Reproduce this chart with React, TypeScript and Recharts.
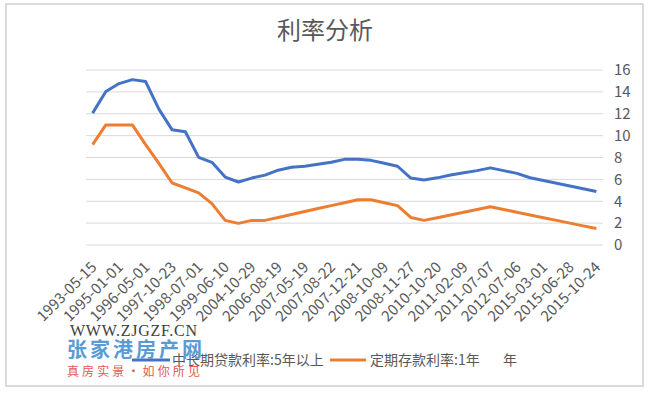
import React from 'react';
import { LineChart, Line, XAxis, YAxis, CartesianGrid } from 'recharts';

// 调整日期
const dates = [
  '1993-05-15', '1993-07-11', '1995-01-01', '1995-07-01', '1996-05-01', '1996-08-23',
  '1997-10-23', '1998-03-25', '1998-07-01', '1998-12-07', '1999-06-10', '2002-02-21',
  '2004-10-29', '2006-04-28', '2006-08-19', '2007-03-18', '2007-05-19', '2007-07-21',
  '2007-08-22', '2007-09-15', '2007-12-21', '2008-09-16', '2008-10-09', '2008-10-30',
  '2008-11-27', '2008-12-23', '2010-10-20', '2010-12-26', '2011-02-09', '2011-04-06',
  '2011-07-07', '2012-06-08', '2012-07-06', '2014-11-22', '2015-03-01', '2015-05-11',
  '2015-06-28', '2015-08-26', '2015-10-24',
];

// 中长期贷款利率:5年以上
const loanRate = [
  12.06, 14.04, 14.76, 15.12, 14.94, 12.42, 10.53, 10.35, 8.01, 7.56, 6.21, 5.76,
  6.12, 6.39, 6.84, 7.11, 7.2, 7.38, 7.56, 7.83, 7.83, 7.74, 7.47, 7.2,
  6.12, 5.94, 6.14, 6.4, 6.6, 6.8, 7.05, 6.8, 6.55, 6.15, 5.9, 5.65,
  5.4, 5.15, 4.9,
];

// 定期存款利率:1年
const depositRate = [
  9.18, 10.98, 10.98, 10.98, 9.18, 7.47, 5.67, 5.22, 4.77, 3.78, 2.25, 1.98,
  2.25, 2.25, 2.52, 2.79, 3.06, 3.33, 3.6, 3.87, 4.14, 4.14, 3.87, 3.6,
  2.52, 2.25, 2.5, 2.75, 3.0, 3.25, 3.5, 3.25, 3.0, 2.75, 2.5, 2.25,
  2.0, 1.75, 1.5,
];

const yTicks = [0, 2, 4, 6, 8, 10, 12, 14, 16];

const data = dates.map((date, i) => ({ date, loan: loanRate[i], deposit: depositRate[i] }));

const FONT = '"Noto Sans CJK SC", "Noto Sans", sans-serif';
const TEXT = '#595959';
const BLUE = '#4472C4';
const ORANGE = '#ED7D31';

const DateTick = ({ x, y, payload }: any) => (
  <g transform={`translate(${x + 5},${y + 23})`}>
    <text textAnchor="end" transform="rotate(-45)" fill={TEXT} fontSize={15} fontFamily={FONT}>
      {payload.value}
    </text>
  </g>
);

export default function App() {
  return (
    <div style={{ position: 'absolute', left: 0, top: 0, width: 649, height: 394, background: '#fff' }}>
      <div
        style={{
          position: 'absolute', left: 5, top: 3, width: 639, height: 384,
          border: '2px solid #dadada', boxSizing: 'border-box',
        }}
      />
      <LineChart width={649} height={394} data={data} margin={{ top: 70, right: 6, bottom: 69, left: 86 }}>
        <CartesianGrid vertical={false} stroke="#d9d9d9" />
        <XAxis
          dataKey="date"
          interval={1}
          height={80}
          axisLine={false}
          tickLine={false}
          tickSize={0}
          tickMargin={0}
          padding={{ left: 6.6, right: 6.6 }}
          tick={<DateTick />}
        />
        <YAxis
          orientation="right"
          width={40}
          domain={[0, 16]}
          ticks={yTicks}
          interval={0}
          axisLine={false}
          tickLine={false}
          tickSize={0}
          tickMargin={11}
          tick={{ fill: TEXT, fontSize: 15, fontFamily: FONT }}
        />
        <Line dataKey="loan" type="linear" stroke={BLUE} strokeWidth={3} dot={false} strokeLinejoin="round" isAnimationActive={false} />
        <Line dataKey="deposit" type="linear" stroke={ORANGE} strokeWidth={3} dot={false} strokeLinejoin="round" isAnimationActive={false} />
      </LineChart>

      <svg width={649} height={394} style={{ position: 'absolute', left: 0, top: 0, pointerEvents: 'none' }}>
        <text x={325} y={39} textAnchor="middle" fill={TEXT} fontSize={24} fontFamily={FONT}>利率分析</text>

        {/* legend */}
        <line x1={132} y1={360} x2={170} y2={360} stroke={BLUE} strokeWidth={3} />
        <text x={172} y={365} fill={TEXT} fontSize={14} fontFamily={FONT}>中长期贷款利率:5年以上</text>
        <line x1={330} y1={360} x2={366} y2={360} stroke={ORANGE} strokeWidth={3} />
        <text x={370} y={365} fill={TEXT} fontSize={14} fontFamily={FONT}>定期存款利率:1年</text>
        <text x={503} y={365} fill={TEXT} fontSize={14} fontFamily={FONT}>年</text>

        {/* watermark */}
        <text x={70} y={336} fill="#3d3d3d" fontSize={16} fontFamily='"Liberation Serif", "DejaVu Serif", serif' textLength={127} lengthAdjust="spacing">WWW.ZJGZF.CN</text>
        <text x={67} y={357} fill="#5b9bd5" fontSize={20} fontWeight="bold" fontFamily={FONT} textLength={135} lengthAdjust="spacing">张家港房产网</text>
        <text x={67} y={376} fill="#e4564c" fontSize={12} fontFamily={FONT} textLength={133} lengthAdjust="spacing">真房实景·如你所见</text>
      </svg>
    </div>
  );
}
